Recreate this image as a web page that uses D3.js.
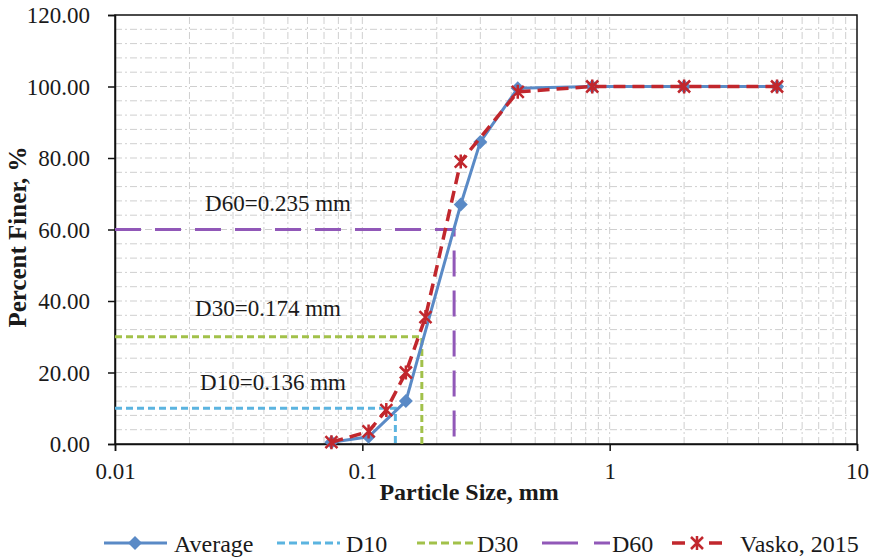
<!DOCTYPE html>
<html>
<head>
<meta charset="utf-8">
<script src="https://cdn.jsdelivr.net/npm/d3@7"></script>
<style>
  body { margin: 0; background: #fff; }
  text { font-family: "Liberation Serif", "Times New Roman", serif; fill: #1a1a1a; }
</style>
</head>
<body>
<svg id="chart"></svg>
<script>
// sieve sizes (mm) and percent finer
const avgSizes = [0.075, 0.106, 0.15, 0.25, 0.3, 0.425, 0.85, 2.0, 4.75];
const avgFiner = [0.5, 2.0, 12.0, 67.0, 84.5, 99.5, 100, 100, 100];

const vaskoSizes = [0.075, 0.106, 0.125, 0.15, 0.18, 0.25, 0.425, 0.85, 2.0, 4.75];
const vaskoFiner = [0.5, 3.5, 9.5, 20.0, 35.5, 79.0, 98.5, 100, 100, 100];

const dNames = ['D10', 'D30', 'D60'];
const dPercents = [10, 30, 60];
const dSizes = [0.136, 0.174, 0.235];

const yTicks = [0, 20, 40, 60, 80, 100, 120];
const xTicks = [0.01, 0.1, 1, 10];

const W = 874, H = 559;
const margin = {top: 15, right: 17, bottom: 115, left: 115};

const svg = d3.select('#chart').attr('width', W).attr('height', H);

const x = d3.scaleLog().domain([0.01, 10]).range([margin.left, W - margin.right]);
const y = d3.scaleLinear().domain([0, 120]).range([H - margin.bottom, margin.top]);

const gridColor = '#cfcfcf';
const gridDash = '7,3,2,3';

// minor / major grid
const grid = svg.append('g');
const vGrid = [];
[0.01, 0.1, 1].forEach(dec => { for (let k = 1; k <= 9; k++) vGrid.push(dec * k); });
grid.selectAll('.vg').data(vGrid.filter(v => v > 0.01)).join('line')
    .attr('x1', d => x(d)).attr('x2', d => x(d))
    .attr('y1', y(0)).attr('y2', y(120))
    .attr('stroke', gridColor).attr('stroke-dasharray', gridDash).attr('stroke-width', 1);
grid.selectAll('.hg').data(d3.range(4, 120, 4)).join('line')
    .attr('x1', x(0.01)).attr('x2', x(10))
    .attr('y1', d => y(d)).attr('y2', d => y(d))
    .attr('stroke', gridColor).attr('stroke-dasharray', gridDash).attr('stroke-width', 1);

// frame
svg.append('rect')
    .attr('x', x(0.01)).attr('y', y(120))
    .attr('width', x(10) - x(0.01)).attr('height', y(0) - y(120))
    .attr('fill', 'none').attr('stroke', '#111').attr('stroke-width', 1.5);

// axes
const yAxis = d3.axisLeft(y).tickValues(yTicks).tickSize(7).tickFormat(d3.format('.2f'));
const yg = svg.append('g').attr('transform', `translate(${x(0.01)},0)`).call(yAxis);
const xAxis = d3.axisBottom(x).tickValues(xTicks).tickSize(7).tickFormat(d => String(d));
const xg = svg.append('g').attr('transform', `translate(0,${y(0)})`).call(xAxis);
[yg, xg].forEach(g => {
    g.select('.domain').attr('stroke', '#111').attr('stroke-width', 1.5);
    g.selectAll('.tick line').attr('stroke', '#111').attr('stroke-width', 1.5);
    g.selectAll('.tick text').style('font-family', '"Liberation Serif", serif')
        .style('font-size', '23px').attr('fill', '#1a1a1a');
});
yg.selectAll('.tick text').attr('x', -25).attr('dy', '0.34em');
xg.selectAll('.tick text').attr('y', 19);

// axis titles
svg.append('text')
    .attr('x', 469).attr('y', 500)
    .attr('text-anchor', 'middle')
    .style('font-weight', 'bold').style('font-size', '24px')
    .text('Particle Size, mm');
svg.append('text')
    .attr('transform', 'translate(26,237) rotate(-90)')
    .attr('text-anchor', 'middle')
    .style('font-weight', 'bold').style('font-size', '25px')
    .text('Percent Finer, %');

// D lines
const dColors = ['#5bb4e0', '#a2c14a', '#9158b8'];
const dDash = ['7,4', '7,4', '26,14'];
const dLabelPos = [[273, 390], [268, 316], [278, 211]];
dNames.forEach((name, i) => {
    const pts = [[0.01, dPercents[i]], [dSizes[i], dPercents[i]], [dSizes[i], 0]];
    svg.append('path')
        .attr('d', d3.line().x(d => x(d[0])).y(d => y(d[1]))(pts))
        .attr('fill', 'none').attr('stroke', dColors[i])
        .attr('stroke-width', 3).attr('stroke-dasharray', dDash[i]);
    svg.append('text')
        .attr('x', dLabelPos[i][0]).attr('y', dLabelPos[i][1])
        .attr('text-anchor', 'middle').style('font-size', '23px')
        .text(`${name}=${dSizes[i]} mm`);
});

const blue = '#5a8ac6';
const red = '#c1272d';

// average line
const avgData = avgSizes.map((s, i) => [s, avgFiner[i]]);
const line = d3.line().x(d => x(d[0])).y(d => y(d[1]));
svg.append('path').attr('d', line(avgData))
    .attr('fill', 'none').attr('stroke', blue).attr('stroke-width', 3);
svg.selectAll('.dia').data(avgData).join('path')
    .attr('transform', d => `translate(${x(d[0])},${y(d[1])})`)
    .attr('d', 'M0,-7L7,0L0,7L-7,0Z')
    .attr('fill', blue);

// vasko line
const vData = vaskoSizes.map((s, i) => [s, vaskoFiner[i]]);
svg.append('path').attr('d', line(vData))
    .attr('fill', 'none').attr('stroke', red).attr('stroke-width', 3.5)
    .attr('stroke-dasharray', '12,7');
const star = 'M-6,-6L6,6M-6,6L6,-6M0,-7L0,7';
svg.selectAll('.star').data(vData).join('path')
    .attr('transform', d => `translate(${x(d[0])},${y(d[1])})`)
    .attr('d', star)
    .attr('fill', 'none').attr('stroke', red).attr('stroke-width', 2.5);

// legend
const ly = 543;
const fs = '24px';
const lg = svg.append('g');
lg.append('line').attr('x1', 104).attr('x2', 167).attr('y1', ly).attr('y2', ly)
    .attr('stroke', blue).attr('stroke-width', 3);
lg.append('path').attr('transform', `translate(135,${ly})`).attr('d', 'M0,-7L7,0L0,7L-7,0Z').attr('fill', blue);
lg.append('text').attr('x', 174).attr('y', ly + 9).style('font-size', fs).text('Average');

const legX = [[277, 340, 346], [417, 475, 477], [542, 610, 612]];
dNames.forEach((name, i) => {
    lg.append('line').attr('x1', legX[i][0]).attr('x2', legX[i][1]).attr('y1', ly).attr('y2', ly)
        .attr('stroke', dColors[i]).attr('stroke-width', 3)
        .attr('stroke-dasharray', i === 2 ? '36,16' : '8,4');
    lg.append('text').attr('x', legX[i][2]).attr('y', ly + 9).style('font-size', fs).text(name);
});

lg.append('line').attr('x1', 672).attr('x2', 722).attr('y1', ly).attr('y2', ly)
    .attr('stroke', red).attr('stroke-width', 3.5).attr('stroke-dasharray', '13,24');
lg.append('path').attr('transform', `translate(697,${ly})`).attr('d', star)
    .attr('fill', 'none').attr('stroke', red).attr('stroke-width', 2.5);
lg.append('text').attr('x', 740).attr('y', ly + 9).style('font-size', fs).text('Vasko, 2015');
</script>
</body>
</html>
